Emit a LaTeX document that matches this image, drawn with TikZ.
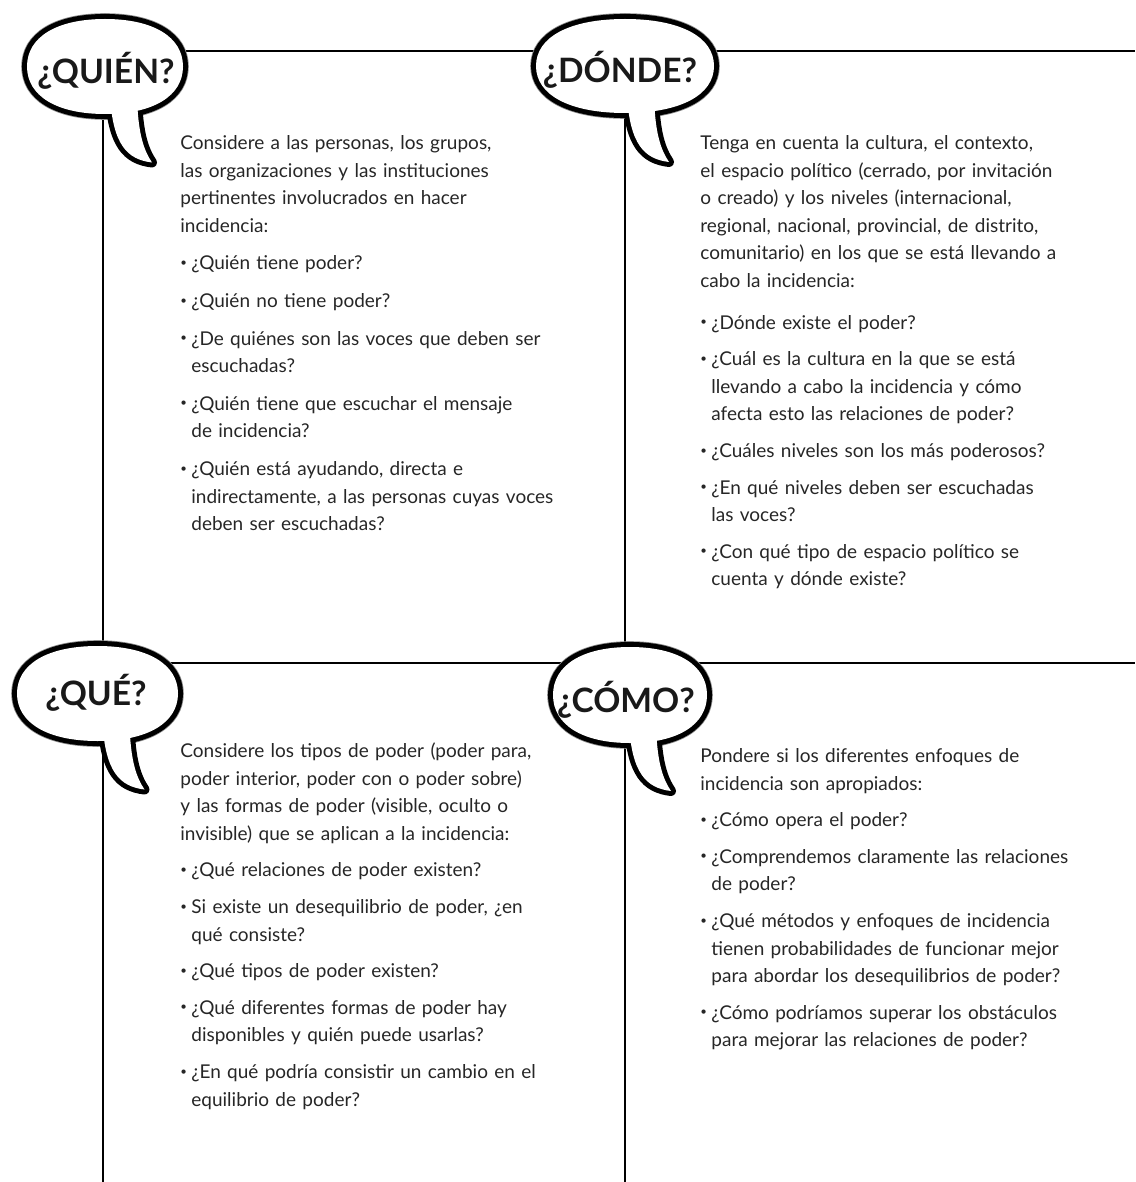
\documentclass[tikz,border=0pt]{standalone}
\usepackage{fontspec}
\usepackage{graphicx}
\setmainfont{Lato}

\begin{document}
\begin{tikzpicture}[x=0.5pt, y=-0.5pt,
  frame/.style={line width=1pt, black},
  outline/.style={line width=5pt, line join=round, preaction={draw, line width=5.8pt, black!45}},
  tailline/.style={line width=5pt, line join=round},
  heading/.style={font=\fontsize{16.8pt}{20pt}\selectfont\bfseries, text=black!90, inner sep=0pt, anchor=base},
  body/.style={font=\fontsize{9.5pt}{13.8pt}\selectfont, text=black!85, inner sep=0pt, anchor=north west, text width=215pt, align=left}]
\def\itemdot{\makebox[5.5pt][l]{\raisebox{0.35ex}{\scalebox{0.6}{\textbullet}}}}
\def\itemind{\hspace*{5.5pt}}
% bubble: centre, x radius, y radius, tail offset
\def\balloon#1#2#3#4{%
  \begin{scope}[shift={#1}]
    \draw[outline] (#2,0) .. controls (#2,0.62*#3) and (0.62*#2,#3) .. (0,#3) .. controls (-0.62*#2,#3) and (-#2,0.62*#3) .. (-#2,0) .. controls (-#2,-0.62*#3) and (-0.62*#2,-#3) .. (0,-#3) .. controls (0.62*#2,-#3) and (#2,-0.62*#3) .. (#2,0) -- cycle;
    \draw[tailline] (#4+5,30) .. controls (#4+8,78) and (#4+22,93) .. (#4+47,96) .. controls (#4+39,84) and (#4+33,68) .. (#4+32,30) -- cycle;
    \fill[white] (#2,0) .. controls (#2,0.62*#3) and (0.62*#2,#3) .. (0,#3) .. controls (-0.62*#2,#3) and (-#2,0.62*#3) .. (-#2,0) .. controls (-#2,-0.62*#3) and (-0.62*#2,-#3) .. (0,-#3) .. controls (0.62*#2,-#3) and (#2,-0.62*#3) .. (#2,0) -- cycle;
    \fill[white] (#4+5,30) .. controls (#4+8,78) and (#4+22,93) .. (#4+47,96) .. controls (#4+39,84) and (#4+33,68) .. (#4+32,30) -- cycle;
  \end{scope}}

\useasboundingbox (0,0) rectangle (1135,1182);

% Frame lines (under the bubbles)
\draw[frame] (105,51) -- (1135,51);
\draw[frame] (103,66) -- (103,1182);
\draw[frame] (625,66) -- (625,1182);
\draw[frame] (97,663) -- (1135,663);

% Speech bubbles
\balloon{(105,66.5)}{78}{47.5}{0}
\balloon{(625,66)}{89}{47}{-3}
\balloon{(97.5,693.5)}{80.5}{47.5}{0}
\balloon{(630,695)}{77}{48}{-6}

% Headings
\node[heading] (quien) at (106,84) {¿QUIÉN?};
\node[heading] (donde) at (620,83) {¿DÓNDE?};
\node[heading] (que) at (96,705) {¿QUÉ?};
\node[heading] (como) at (626,712) {¿CÓMO?};

% Who
\node[body] (quientext) at (180,129.75) {\strut Considere a las personas, los grupos,\\
las organizaciones y las instituciones\\
pertinentes involucrados en hacer\\
incidencia:\\[5pt]
\itemdot ¿Quién tiene poder?\\[5pt]
\itemdot ¿Quién no tiene poder?\\[5pt]
\itemdot ¿De quiénes son las voces que deben ser\\
\itemind escuchadas?\\[5pt]
\itemdot ¿Quién tiene que escuchar el mensaje\\
\itemind de incidencia?\\[5pt]
\itemdot ¿Quién está ayudando, directa e\\
\itemind indirectamente, a las personas cuyas voces\\
\itemind deben ser escuchadas?};

% Where
\node[body] (dondetext) at (700,129.75) {\strut Tenga en cuenta la cultura, el contexto,\\
el espacio político (cerrado, por invitación\\
o creado) y los niveles (internacional,\\
regional, nacional, provincial, de distrito,\\
comunitario) en los que se está llevando a\\
cabo la incidencia:\\[7pt]
\itemdot ¿Dónde existe el poder?\\[4.5pt]
\itemdot ¿Cuál es la cultura en la que se está\\
\itemind llevando a cabo la incidencia y cómo\\
\itemind afecta esto las relaciones de poder?\\[4.5pt]
\itemdot ¿Cuáles niveles son los más poderosos?\\[4.5pt]
\itemdot ¿En qué niveles deben ser escuchadas\\
\itemind las voces?\\[4.5pt]
\itemdot ¿Con qué tipo de espacio político se\\
\itemind cuenta y dónde existe?};

% What
\node[body] (quetext) at (180,737.75) {\strut Considere los tipos de poder (poder para,\\
poder interior, poder con o poder sobre)\\
y las formas de poder (visible, oculto o\\
invisible) que se aplican a la incidencia:\\[4.5pt]
\itemdot ¿Qué relaciones de poder existen?\\[4.5pt]
\itemdot Si existe un desequilibrio de poder, ¿en\\
\itemind qué consiste?\\[4.5pt]
\itemdot ¿Qué tipos de poder existen?\\[4.5pt]
\itemdot ¿Qué diferentes formas de poder hay\\
\itemind disponibles y quién puede usarlas?\\[4.5pt]
\itemdot ¿En qué podría consistir un cambio en el\\
\itemind equilibrio de poder?};

% How
\node[body] (comotext) at (700,742.75) {\strut Pondere si los diferentes enfoques de\\
incidencia son apropiados:\\[4.5pt]
\itemdot ¿Cómo opera el poder?\\[4.5pt]
\itemdot ¿Comprendemos claramente las relaciones\\
\itemind de poder?\\[4.5pt]
\itemdot ¿Qué métodos y enfoques de incidencia\\
\itemind tienen probabilidades de funcionar mejor\\
\itemind para abordar los desequilibrios de poder?\\[4.5pt]
\itemdot ¿Cómo podríamos superar los obstáculos\\
\itemind para mejorar las relaciones de poder?};

\end{tikzpicture}
\end{document}
